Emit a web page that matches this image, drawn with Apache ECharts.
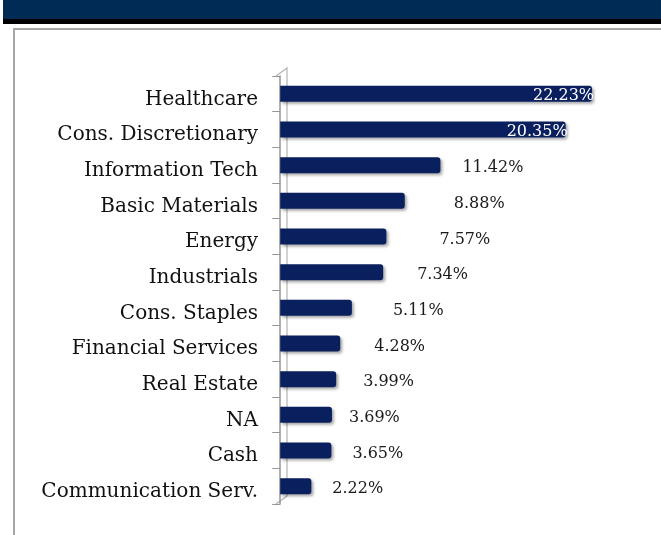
<!DOCTYPE html>
<html>
<head>
<meta charset="utf-8">
<script src="https://cdn.jsdelivr.net/npm/echarts@6/dist/echarts.min.js"></script>
<style>
html,body{margin:0;padding:0;background:#fff;}
#chart{width:661px;height:535px;}
</style>
</head>
<body>
<div id="chart"></div>
<script>
// ---- data ----
var categories = ["Healthcare","Cons. Discretionary","Information Tech","Basic Materials","Energy","Industrials","Cons. Staples","Financial Services","Real Estate","NA","Cash","Communication Serv."];
var weights = [22.23,20.35,11.42,8.88,7.57,7.34,5.11,4.28,3.99,3.69,3.65,2.22];
var valueLabels = ["22.23%","20.35%","11.42%","8.88%","7.57%","7.34%","5.11%","4.28%","3.99%","3.69%","3.65%","2.22%"];

// ---- style / layout (not data) ----
var labelShift = [0,0,22,49,53,34,41,34,27,17,21,21];
var insideCount = 2;
var GRID_LEFT = 276, GRID_TOP = 76, GRID_BOTTOM = 31, GRID_RIGHT = 68;
var W = 661, H = 535;
var serif = '"DejaVu Serif", "Liberation Serif", serif';

var chart = echarts.init(document.getElementById('chart'), null, {renderer:'canvas'});

var seriesData = weights.map(function(v, i){
  var inside = i < insideCount;
  return {
    value: v,
    label: inside ? {
      position: 'insideRight', distance: -2, color: '#ffffff', offset: [0, 2]
    } : {
      position: 'right', distance: 0, color: '#1a1a1a', offset: [labelShift[i], 3]
    }
  };
});

var wallTop = GRID_TOP, wallBot = H - GRID_BOTTOM, depth = 11, rise = 8;

var option = {
  animation: false,
  backgroundColor: '#ffffff',
  grid: {left: GRID_LEFT, top: GRID_TOP, bottom: GRID_BOTTOM, right: GRID_RIGHT, containLabel: false},
  xAxis: {
    type: 'value', min: -0.3, max: 22.3, show: false,
    splitLine: {show: false}
  },
  yAxis: {
    type: 'category', data: categories, inverse: true,
    axisLine: {show: true, lineStyle: {color: '#969696', width: 1.5}},
    axisTick: {show: true, length: 8, inside: false, alignWithLabel: false, lineStyle: {color: '#969696', width: 1}},
    axisLabel: {
      fontFamily: serif, fontSize: 20, color: '#111111', margin: 18,
      verticalAlign: 'top', lineHeight: 11
    },
    splitLine: {show: false}
  },
  graphic: [
    {type:'rect', shape:{x:3, y:0, width:W-3, height:19}, style:{fill:'#002b55'}, silent:true},
    {type:'rect', shape:{x:3, y:19, width:W-3, height:5}, style:{fill:'#000000'}, silent:true},
    {type:'polyline', shape:{points:[[14,H],[14,29],[W,29]]}, style:{stroke:'#a6a6a6', lineWidth:2, fill:null}, silent:true},
    {type:'polyline', shape:{points:[[GRID_LEFT, wallTop],[GRID_LEFT+depth, wallTop-rise],[GRID_LEFT+depth, wallBot-rise],[GRID_LEFT, wallBot]]},
     style:{stroke:'#b4b4b4', lineWidth:1.2, fill:null}, silent:true, z:-1}
  ],
  series: [{
    type: 'bar',
    data: seriesData,
    barWidth: 16,
    itemStyle: {
      color: '#0a205e',
      borderRadius: [0, 3, 3, 0],
      shadowColor: 'rgba(0,0,0,0.35)',
      shadowBlur: 3,
      shadowOffsetX: 2,
      shadowOffsetY: 2
    },
    label: {
      show: true,
      fontFamily: serif,
      fontSize: 16,
      formatter: function(p){ return valueLabels[p.dataIndex]; }
    },
    z: 3
  }]
};
chart.setOption(option);
</script>
</body>
</html>
